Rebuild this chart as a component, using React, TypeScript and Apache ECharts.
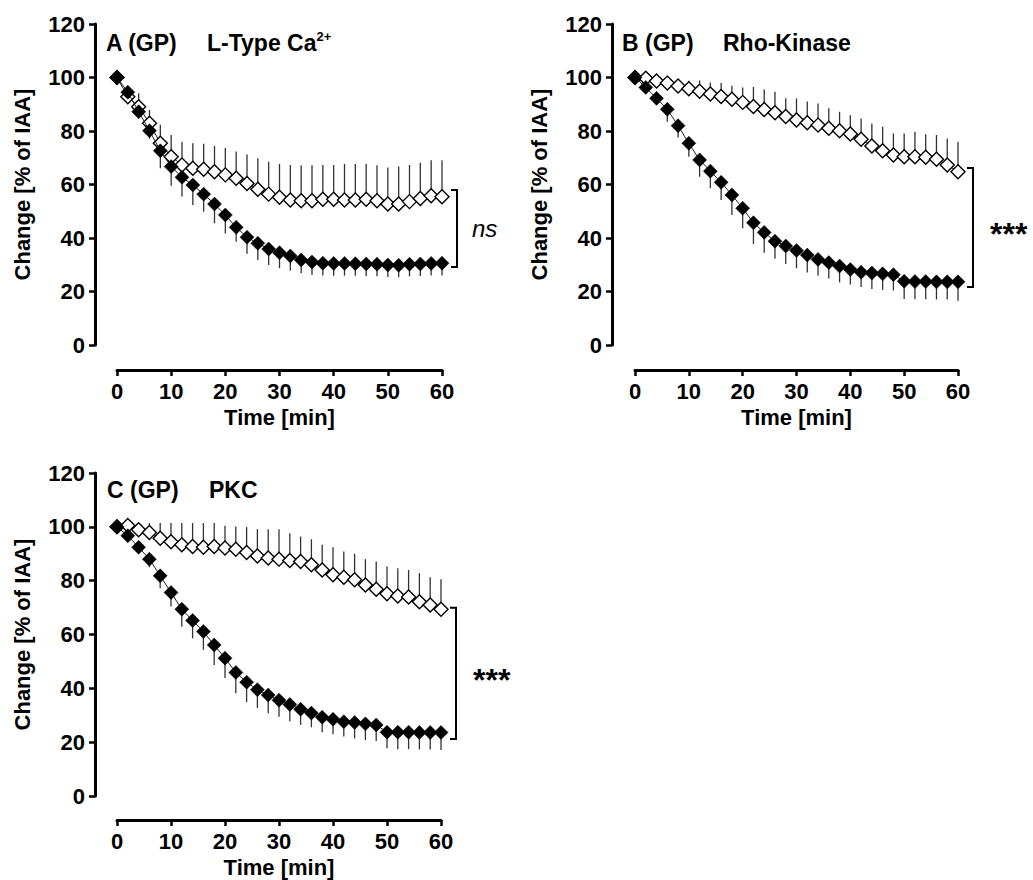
import React, { useEffect, useRef } from "react";
import * as echarts from "echarts";

const FONT = '"Liberation Sans", Arial, Helvetica, sans-serif';

// time points (min)
const time = [0, 2, 4, 6, 8, 10, 12, 14, 16, 18, 20, 22, 24, 26, 28, 30, 32, 34, 36, 38, 40, 42, 44, 46, 48, 50, 52, 54, 56, 58, 60];

// Panel A (GP) L-Type Ca2+
const aFilled = [100, 94.5, 87.2, 80.1, 72.6, 66.7, 62.7, 59.8, 56.4, 52.7, 48.6, 44, 40.3, 38, 35.9, 34.5, 33.3, 31.8, 31, 30.6, 30.5, 30.5, 30.4, 30.3, 30.2, 29.9, 29.8, 30.2, 30.3, 30.5, 30.6];
const aFilledSem = [0, 1.5, 2, 3, 6.5, 7.2, 7.2, 7.5, 6.6, 7.2, 6.9, 5.4, 6.2, 6.2, 6, 5.8, 5.5, 5, 4.8, 4.6, 4.6, 4.6, 4.5, 4.5, 4.5, 4.5, 4.5, 4.5, 4.5, 4.5, 4.6];
const aOpen = [100, 92.8, 89.1, 82.9, 75.4, 70.4, 67.3, 66.1, 65.7, 64.8, 63.6, 62.3, 60.4, 58.2, 56.4, 55.2, 54.2, 53.9, 53.9, 54.5, 54.5, 54.2, 54.2, 54.5, 53.9, 52.7, 52.7, 53.6, 54.8, 55.8, 55.4];
const aOpenSem = [0, 1.5, 5, 5, 6.9, 8.1, 8.7, 9.3, 9.5, 9.6, 10, 10, 10.8, 11.6, 12.1, 12.5, 13.1, 13.3, 13.3, 12.8, 12.8, 13.5, 13.5, 13.2, 13.3, 13.7, 14, 13.7, 13.3, 13.3, 13.7];

// Panel B (GP) Rho-Kinase
const bFilled = [100, 96.3, 92.2, 88.1, 82, 75.4, 69.2, 65, 60.8, 56.1, 51.1, 45.7, 42.1, 38.8, 37, 35.3, 33.6, 32, 30.8, 29.5, 28.2, 27.2, 26.9, 26.6, 26.3, 23.8, 23.7, 23.7, 23.6, 23.6, 23.6];
const bFilledSem = [0, 1.5, 2.5, 4.6, 4.4, 5, 6.3, 6.4, 6.6, 7.5, 7.5, 7.9, 7.6, 6.6, 6.7, 6.6, 6.5, 6.1, 5.9, 6.1, 5.6, 5.5, 6, 6, 5.9, 6.6, 6.6, 6.6, 6.6, 6.6, 7.1];
const bOpen = [100, 99.7, 98.7, 97.9, 96.8, 95.8, 94.9, 93.8, 92.9, 91.9, 90.7, 89.2, 88, 86.8, 85.4, 84.1, 83.1, 82.2, 81, 80.1, 78.9, 76.9, 74.4, 72.6, 71, 70.4, 70.4, 70.2, 69.4, 67.3, 64.8];
const bOpenSem = [0, 1, 1.5, 2, 2.5, 3, 4, 4.3, 5, 5, 5.6, 7.3, 7.5, 7.9, 6.8, 8.1, 7.9, 8.1, 7.5, 7.1, 7, 7.8, 8.4, 9, 8.1, 8.7, 9.3, 8.6, 9.1, 9.9, 11.2];

// Panel C (GP) PKC
const cFilled = [100, 96.7, 92.4, 88, 81.8, 75.6, 69.4, 65.2, 61.1, 56.1, 51.2, 45.9, 42.3, 39.5, 37.5, 35.6, 34, 32.2, 30.8, 29.3, 28.5, 27.6, 27.3, 26.8, 26.4, 23.7, 23.7, 23.7, 23.6, 23.6, 23.6];
const cFilledSem = [0, 1.5, 2, 3, 4.6, 5.2, 6.5, 6.6, 6.8, 7.4, 7.4, 7.7, 7.4, 6.8, 6.8, 6.2, 6.2, 5.8, 5.3, 5.6, 5.6, 5.5, 5.9, 6, 6, 6, 6.3, 6.3, 6.3, 6.3, 6.5];
const cOpen = [100, 100.5, 98.9, 97.9, 95.8, 94.5, 93.3, 92.7, 92.4, 92.7, 92.1, 91.7, 90.5, 89.2, 88.4, 88, 87.5, 87.1, 85.9, 84, 82.2, 81.3, 80.3, 78.4, 76.8, 75.1, 74.3, 73.9, 72.2, 71, 69.4];
const cOpenSem = [0, 0.5, 1.5, 3.5, 5.6, 6.9, 8.1, 8.7, 9, 8.7, 8.3, 8.4, 9.4, 9.9, 10.7, 11.1, 10.1, 9.3, 9.5, 9.3, 10.2, 9.5, 9.7, 9.6, 10.3, 10.2, 10.3, 10.1, 10.6, 10.3, 11.1];

// significance brackets: [top value, bottom value]
const brackets = [[57.9, 29.2], [66.2, 21.7], [69.9, 21.2]];
const sigLabels = ["ns", "***", "***"];

const panelTitles = ["A (GP)", "B (GP)", "C (GP)"];
const panelNames = ["L-Type Ca", "Rho-Kinase", "PKC"];
const panelSup = ["2+", "", ""];

const panels = [
  { filled: aFilled, filledSem: aFilledSem, open: aOpen, openSem: aOpenSem },
  { filled: bFilled, filledSem: bFilledSem, open: bOpen, openSem: bOpenSem },
  { filled: cFilled, filledSem: cFilledSem, open: cOpen, openSem: cOpenSem },
];

const grids = [
  { left: 117, top: 24, width: 325, height: 321 },
  { left: 635, top: 24, width: 323, height: 321 },
  { left: 117, top: 473, width: 324, height: 323 },
];
const yOffsets = [22, 23, 22];
const xOffsets = [25, 25, 24];
const titlePos = [
  { x1: 106, x2: 207, y: 43 },
  { x1: 622, x2: 723, y: 43 },
  { x1: 107, x2: 209, y: 490 },
];

function errorBarSeries(idx: number, means: number[], sems: number[], dir: number) {
  return {
    type: "custom",
    xAxisIndex: idx,
    yAxisIndex: idx,
    silent: true,
    z: 1,
    data: time.map((t, i) => [t, means[i], sems[i]]),
    renderItem: (params: any, api: any) => {
      const t = api.value(0);
      const m = api.value(1);
      const s = api.value(2);
      const p0 = api.coord([t, m]);
      const p1 = api.coord([t, m + dir * s]);
      return {
        type: "line",
        shape: { x1: p0[0], y1: p0[1], x2: p1[0], y2: p1[1] },
        style: { stroke: "#333", lineWidth: 1.3 },
      };
    },
  };
}

function bracketSeries(idx: number) {
  const [top, bottom] = brackets[idx];
  const label = sigLabels[idx];
  const isStar = label !== "ns";
  return {
    type: "custom",
    xAxisIndex: idx,
    yAxisIndex: idx,
    silent: true,
    clip: false,
    z: 5,
    data: [[60, top, bottom]],
    renderItem: (params: any, api: any) => {
      const p1 = api.coord([api.value(0), api.value(1)]);
      const p2 = api.coord([api.value(0), api.value(2)]);
      const xa = p1[0] + 9;
      const xb = p1[0] + 15;
      const mid = (p1[1] + p2[1]) / 2;
      return {
        type: "group",
        children: [
          {
            type: "polyline",
            shape: { points: [[xa, p1[1]], [xb, p1[1]], [xb, p2[1]], [xa, p2[1]]] },
            style: { stroke: "#000", lineWidth: 2, fill: "none" },
          },
          {
            type: "text",
            x: p1[0] + (isStar ? 32 : 30),
            y: isStar ? mid + 7 : mid,
            style: {
              text: label,
              fill: "#000",
              fontFamily: FONT,
              fontSize: isStar ? 32 : 24,
              fontWeight: isStar ? "bold" : "normal",
              fontStyle: isStar ? "normal" : "italic",
              align: "left",
              verticalAlign: "middle",
            },
          },
        ],
      };
    },
  };
}

function lineSeries(idx: number, values: number[], open: boolean) {
  return {
    type: "line",
    xAxisIndex: idx,
    yAxisIndex: idx,
    silent: true,
    z: open ? 2 : 3,
    data: time.map((t, i) => [t, values[i]]),
    symbol: "diamond",
    symbolSize: 14,
    showAllSymbol: true,
    lineStyle: { color: "#222", width: 1 },
    itemStyle: open
      ? { color: "#fff", borderColor: "#000", borderWidth: 1.4 }
      : { color: "#000", borderColor: "#000", borderWidth: 0.5 },
  };
}

export default function App() {
  const ref = useRef<HTMLDivElement>(null);
  useEffect(() => {
    if (!ref.current) return;
    const chart = echarts.init(ref.current, undefined, { renderer: "svg" });
    const axisText = { fontFamily: FONT, fontSize: 22, fontWeight: "bold", color: "#000" };

    const xAxis = grids.map((_, i) => ({
      type: "value",
      gridIndex: i,
      min: 0,
      max: 60,
      interval: 10,
      offset: xOffsets[i],
      name: "Time [min]",
      nameLocation: "middle",
      nameGap: 36,
      nameTextStyle: axisText,
      axisLine: { show: true, onZero: false, lineStyle: { color: "#000", width: 3 } },
      axisTick: { show: true, length: 6, lineStyle: { color: "#000", width: 2.5 } },
      axisLabel: { ...axisText, margin: 10 },
      splitLine: { show: false },
    }));

    const yAxis = grids.map((_, i) => ({
      type: "value",
      gridIndex: i,
      min: 0,
      max: 120,
      interval: 20,
      offset: yOffsets[i],
      name: "Change [% of IAA]",
      nameLocation: "middle",
      nameGap: 62,
      nameRotate: 90,
      nameTextStyle: axisText,
      axisLine: { show: true, onZero: false, lineStyle: { color: "#000", width: 3 } },
      axisTick: { show: true, length: 6, lineStyle: { color: "#000", width: 2.5 } },
      axisLabel: { ...axisText, margin: 10 },
      splitLine: { show: false },
    }));

    const series: any[] = [];
    panels.forEach((p, i) => {
      series.push(errorBarSeries(i, p.open, p.openSem, 1));
      series.push(errorBarSeries(i, p.filled, p.filledSem, -1));
      series.push(lineSeries(i, p.open, true));
      series.push(lineSeries(i, p.filled, false));
      series.push(bracketSeries(i));
    });

    const graphic: any[] = [];
    titlePos.forEach((tp, i) => {
      graphic.push({
        type: "text",
        x: tp.x1,
        y: tp.y,
        style: {
          text: panelTitles[i],
          fill: "#000",
          fontFamily: FONT,
          fontSize: 23,
          fontWeight: "bold",
          align: "left",
          verticalAlign: "middle",
        },
      });
      const txt = panelSup[i] ? `{m|${panelNames[i]}}{s|${panelSup[i]}}` : `{m|${panelNames[i]}}`;
      graphic.push({
        type: "text",
        x: tp.x2,
        y: tp.y,
        style: {
          text: txt,
          fill: "#000",
          align: "left",
          verticalAlign: "middle",
          rich: {
            m: { fontFamily: FONT, fontSize: 23, fontWeight: "bold", lineHeight: 26, fill: "#000" },
            s: { fontFamily: FONT, fontSize: 13, fontWeight: "bold", lineHeight: 19, verticalAlign: "top", fill: "#000" },
          },
        },
      });
    });

    chart.setOption({
      animation: false,
      backgroundColor: "#fff",
      grid: grids.map((g) => ({ ...g })),
      xAxis,
      yAxis,
      series,
      graphic,
    });
    return () => chart.dispose();
  }, []);

  return (
    <div
      ref={ref}
      style={{ position: "absolute", left: 0, top: 0, width: 1033, height: 880, background: "#fff" }}
    />
  );
}
